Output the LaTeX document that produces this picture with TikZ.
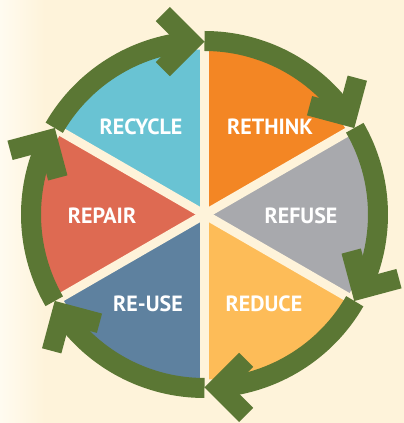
\documentclass[tikz,border=0pt]{standalone}
\usepackage{fontspec}
\setmainfont{PT Sans}
\usetikzlibrary{calc}
\definecolor{cream}{HTML}{FEF3DA}
\definecolor{creamlight}{HTML}{FFFBF0}
\definecolor{leaf}{HTML}{5B7734}
\definecolor{cRethink}{HTML}{F38624}
\definecolor{cRefuse}{HTML}{A8A9AD}
\definecolor{cReduce}{HTML}{FDBC58}
\definecolor{cReuse}{HTML}{5E819F}
\definecolor{cRepair}{HTML}{DE6A52}
\definecolor{cRecycle}{HTML}{69C3D3}
\tikzset{
  label text/.style={text=white, font=\bfseries\fontsize{22}{22}\selectfont, inner sep=0pt},
  spoke/.style={cream, line width=9pt},
  loop arc/.style={leaf, line width=20pt},
  chevron/.style={leaf, line width=20pt, line join=miter},
}
\begin{document}
\begin{tikzpicture}[x=1pt,y=1pt]
% canvas with a paler left edge
\fill[cream] (0,0) rectangle (404,423);
\shade[left color=creamlight, right color=cream] (0,0) rectangle (45,423);
\useasboundingbox (0,0) rectangle (404,423);
\coordinate (c) at (204.5,208.5);

% six sectors, counter-clockwise start angle / colour
\foreach \a/\col in {30/cRethink, -30/cRefuse, -90/cReduce, -150/cReuse, 150/cRepair, 90/cRecycle}
  \fill[\col] (c) -- ++(\a:165) arc[start angle=\a, delta angle=60, radius=165] -- cycle;

% cream gaps between the sectors
\foreach \a in {30,90,150,210,270,330}
  \draw[spoke] (c) -- ++(\a:167);

% clockwise arrows, one over each sector
\foreach \a in {30,90,150,210,270,330} {
  \draw[loop arc] (c) ++(\a+60:173.5) arc[start angle=\a+60, end angle=\a+4.66, radius=173.5];
  \coordinate (v\a) at ($(c)+(\a+4.66:173.5)$);
  \draw[chevron] ($(v\a)+(\a+45:39)$) -- (v\a) -- ($(v\a)+(\a+135:39)$);
}

% labels
\node[label text] (recycle) at (141,296) {RECYCLE};
\node[label text] (rethink) at (270,296) {RETHINK};
\node[label text] (repair)  at (102,207) {REPAIR};
\node[label text] (refuse)  at (301,207) {REFUSE};
\node[label text] (reuse)   at (148,119) {RE-USE};
\node[label text] (reduce)  at (264,119) {REDUCE};
\end{tikzpicture}
\end{document}
